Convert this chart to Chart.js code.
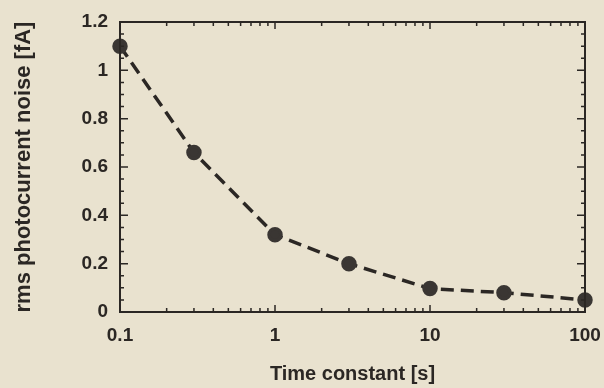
<!DOCTYPE html>
<html>
<head>
<meta charset="utf-8">
<script src="https://cdn.jsdelivr.net/npm/chart.js@4"></script>
<style>
  html, body { margin: 0; padding: 0; background: #e9e2cf; }
  #wrap { width: 604px; height: 388px; }
</style>
</head>
<body>
<div id="wrap"><canvas id="myChart" width="604" height="388"></canvas></div>
<script>
const timeConstants = [0.1, 0.3, 1, 3, 10, 30, 100];
const noiseValues = [1.1, 0.66, 0.32, 0.2, 0.097, 0.08, 0.05];

const xTicks = [0.1, 1, 10, 100];
const xTickLabels = ["0.1", "1", "10", "100"];
const yTicks = [0, 0.2, 0.4, 0.6, 0.8, 1, 1.2];
const yTickLabels = ["0", "0.2", "0.4", "0.6", "0.8", "1", "1.2"];

const ink = "#2b2724";

// minor ticks: 2..9 in each decade, every 0.05 on y
const xMinor = [];
[0.1, 1, 10].forEach((d) => {
  for (let k = 2; k <= 9; k++) xMinor.push(d * k);
});
const yMinor = [];
for (let i = 1; i < 24; i++) if (i % 4 !== 0) yMinor.push(i * 0.05);

// draws the box and the inward ticks on all four sides
const frame = {
  id: "frame",
  beforeDraw(chart) {
    const c = chart.ctx;
    c.save();
    c.fillStyle = "#e9e2cf";
    c.fillRect(0, 0, chart.width, chart.height);
    c.restore();
  },
  afterDatasetsDraw(chart) {
    const c = chart.ctx;
    const a = chart.chartArea;
    const xs = chart.scales.x;
    const ys = chart.scales.y;
    c.save();
    c.strokeStyle = ink;
    c.lineWidth = 2;
    c.strokeRect(a.left, a.top, a.right - a.left, a.bottom - a.top);
    c.lineWidth = 1.5;
    c.beginPath();
    const xt = (v, len) => {
      const p = xs.getPixelForValue(v);
      c.moveTo(p, a.bottom); c.lineTo(p, a.bottom - len);
      c.moveTo(p, a.top); c.lineTo(p, a.top + len);
    };
    const yt = (v, len) => {
      const p = ys.getPixelForValue(v);
      c.moveTo(a.left, p); c.lineTo(a.left + len, p);
      c.moveTo(a.right, p); c.lineTo(a.right - len, p);
    };
    xTicks.forEach((v) => xt(v, 7));
    xMinor.forEach((v) => xt(v, 4));
    yTicks.forEach((v) => yt(v, 8));
    yMinor.forEach((v) => yt(v, 4));
    c.stroke();
    c.restore();
  },
};

const ctx = document.getElementById("myChart");

new Chart(ctx, {
  type: "scatter",
  data: {
    datasets: [
      {
        data: timeConstants.map((t, i) => ({ x: t, y: noiseValues[i] })),
        showLine: true,
        borderColor: ink,
        borderWidth: 3.5,
        borderDash: [13, 7],
        pointRadius: 6,
        pointBackgroundColor: "#3a3633",
        pointBorderColor: "#3a3633",
        clip: false,
      },
    ],
  },
  options: {
    responsive: false,
    animation: false,
    layout: { padding: { top: 22, right: 19, left: 0, bottom: 0 } },
    plugins: { legend: { display: false }, tooltip: { enabled: false } },
    scales: {
      x: {
        type: "logarithmic",
        min: 0.1,
        max: 100,
        afterBuildTicks: (s) => { s.ticks = xTicks.map((v) => ({ value: v })); },
        afterFit: (s) => { s.height = 76; s.paddingLeft = 0; s.paddingRight = 0; },
        grid: { display: false, drawTicks: false },
        border: { display: false },
        ticks: {
          color: ink,
          padding: 12,
          maxRotation: 0,
          font: { family: "Liberation Sans", size: 19, weight: "bold" },
          callback: (v) => xTickLabels[xTicks.indexOf(v)] ?? "",
        },
        title: {
          display: true,
          text: "Time constant [s]",
          color: ink,
          padding: { top: 0, bottom: 2 },
          font: { family: "Liberation Sans", size: 20, weight: "bold" },
        },
      },
      y: {
        min: 0,
        max: 1.2,
        afterBuildTicks: (s) => { s.ticks = yTicks.map((v) => ({ value: v })); },
        afterFit: (s) => { s.width = 120; s.paddingTop = 0; s.paddingBottom = 0; },
        grid: { display: false, drawTicks: false },
        border: { display: false },
        ticks: {
          color: ink,
          padding: 12,
          font: { family: "Liberation Sans", size: 19, weight: "bold" },
          callback: (v) => yTickLabels[yTicks.indexOf(v)] ?? "",
        },
        title: {
          display: true,
          text: "rms photocurrent noise [fA]",
          color: ink,
          padding: { top: 11, bottom: 0 },
          font: { family: "Liberation Sans", size: 22, weight: "bold" },
        },
      },
    },
  },
  plugins: [frame],
});
</script>
</body>
</html>
